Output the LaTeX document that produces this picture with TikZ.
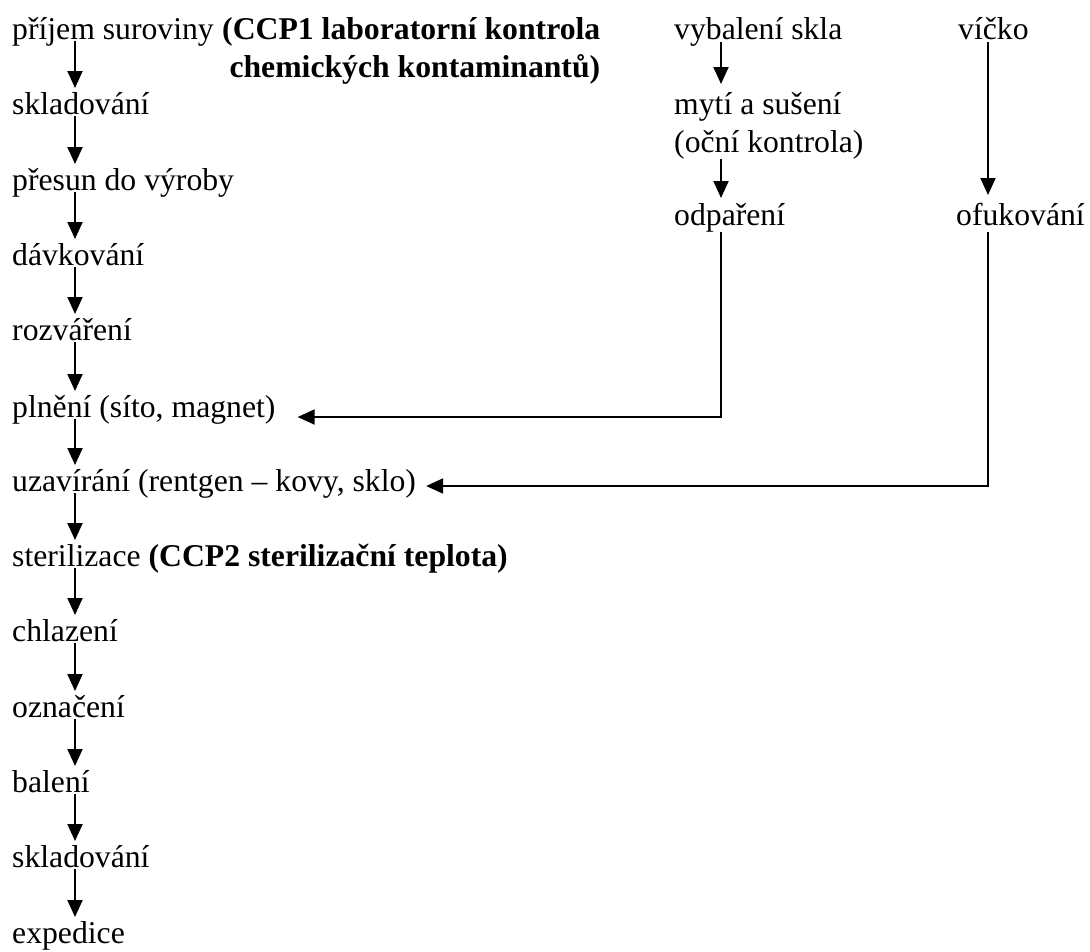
\documentclass[tikz,border=0pt]{standalone}
\usepackage{fontspec}
\setmainfont{Liberation Serif}
\usetikzlibrary{arrows.meta}

\begin{document}
\begin{tikzpicture}[x=1pt,y=-1pt,
  krok/.style={anchor=base west,inner sep=0pt,font=\fontsize{31.7}{38}\selectfont},
  sipka/.style={line width=2pt,-{Triangle[length=17pt,width=15pt]}}]
\useasboundingbox (0,0) rectangle (1090,951);

% Hlavni linka vyroby
\node[krok] (r0) at (12,39) {příjem suroviny};
\node[krok,align=right,font=\fontsize{31.7}{38}\selectfont\bfseries] (ccp1) at ([shift={(8pt,-38pt)}]r0.base east) {(CCP1 laboratorní kontrola\\chemických kontaminantů)};
\node[krok] (r1) at (12,114) {skladování};
\node[krok] (r2) at (12,190) {přesun do výroby};
\node[krok] (r3) at (12,265) {dávkování};
\node[krok] (r4) at (12,340) {rozváření};
\node[krok] (r5) at (12,417) {plnění (síto, magnet)};
\node[krok] (r6) at (12,491) {uzavírání (rentgen – kovy, sklo)};
\node[krok] (r7) at (12,566) {sterilizace \textbf{(CCP2 sterilizační teplota)}};
\node[krok] (r8) at (12,641) {chlazení};
\node[krok] (r9) at (12,717) {označení};
\node[krok] (r10) at (12,792) {balení};
\node[krok] (r11) at (12,867) {skladování};
\node[krok] (r12) at (12,943) {expedice};

% Sklo a vicko
\node[krok] (vs) at (674,39) {vybalení skla};
\node[krok,align=left] (ms) at (674,152) {mytí a sušení\\(oční kontrola)};
\node[krok] (od) at (674,225) {odpaření};
\node[krok] (vi) at (958,39) {víčko};
\node[krok] (of) at (956,225) {ofukování};

% Sipky
\foreach \a/\b in {r0/r1,r1/r2,r2/r3,r3/r4,r4/r5,r5/r6,r6/r7,r7/r8,r8/r9,r9/r10,r10/r11,r11/r12}
  \draw[sipka] ([shift={(63pt,-2pt)}]\a.base west) -- ([shift={(63pt,26pt)}]\b.base west);

\draw[sipka] ([shift={(47pt,-3pt)}]vs.base west) -- ([shift={(47pt,68pt)}]ms.base west);
\draw[sipka] ([xshift=47pt]ms.south west) -- ([shift={(47pt,27pt)}]od.base west);
\draw[sipka] ([shift={(30pt,-3pt)}]vi.base west) -- ([shift={(32pt,30pt)}]of.base west);

\draw[sipka] ([shift={(47pt,-7pt)}]od.base west) |- ([shift={(22pt,0pt)}]r5.base east);
\draw[sipka] ([shift={(32pt,-7pt)}]of.base west) |- ([shift={(10pt,5pt)}]r6.base east);

\end{tikzpicture}
\end{document}
